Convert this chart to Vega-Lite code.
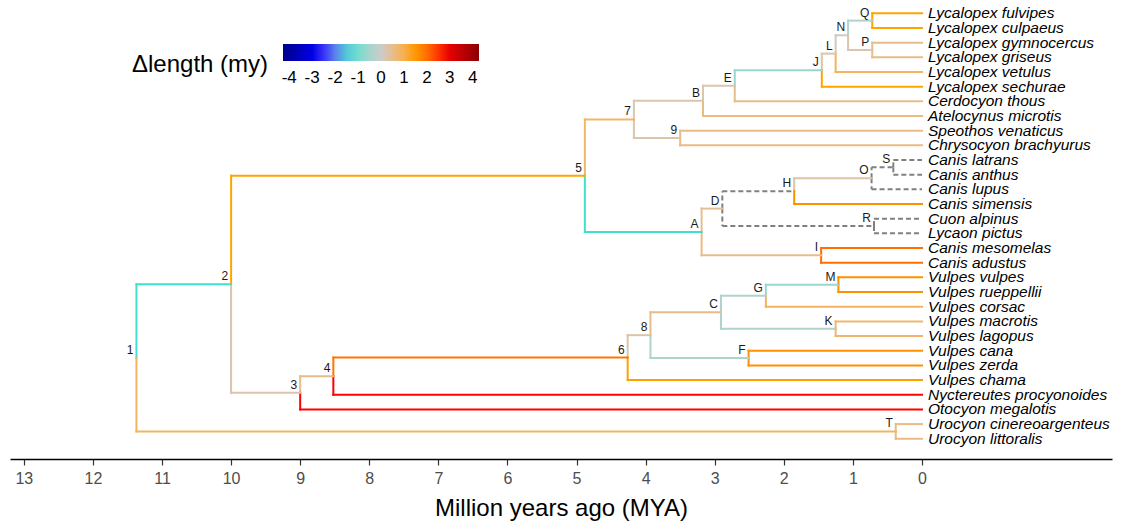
{
  "$schema": "https://vega.github.io/schema/vega-lite/v6.json",
  "width": 1102,
  "height": 459,
  "autosize": {"type": "none"},
  "padding": {"left": 10, "top": 0, "right": 16, "bottom": 68},
  "config": {
    "font": "Liberation Sans",
    "view": {"stroke": null},
    "axisX": {
      "grid": false,
      "domainColor": "black",
      "domainWidth": 1.5,
      "tickColor": "#333333",
      "tickWidth": 1.2,
      "tickSize": 6,
      "labelFontSize": 16,
      "labelColor": "#4D4D4D",
      "labelPadding": 5,
      "titleFontSize": 24,
      "titleFontWeight": "normal",
      "titleColor": "black",
      "titlePadding": 10
    }
  },
  "datasets": {
    "edges": [
      {"p": 11.37, "py": 24.484, "c": 10.0, "cy": 19.469, "d": -1.33},
      {"p": 11.37, "py": 24.484, "c": 0.38, "cy": 29.5, "d": 0.85},
      {"p": 10.0, "py": 19.469, "c": 4.88, "cy": 12.070, "d": 1.33},
      {"p": 10.0, "py": 19.469, "c": 9.0, "cy": 26.867, "d": 0.25},
      {"p": 9.0, "py": 26.867, "c": 8.52, "cy": 25.734, "d": 0.55},
      {"p": 9.0, "py": 26.867, "c": 0, "cy": 28, "d": 2.67},
      {"p": 8.52, "py": 25.734, "c": 4.26, "cy": 24.469, "d": 1.9},
      {"p": 8.52, "py": 25.734, "c": 0, "cy": 27, "d": 2.67},
      {"p": 4.26, "py": 24.469, "c": 3.93, "cy": 22.938, "d": 0.3},
      {"p": 4.26, "py": 24.469, "c": 0, "cy": 26, "d": 1.4},
      {"p": 3.93, "py": 22.938, "c": 2.91, "cy": 21.375, "d": 0.55},
      {"p": 3.93, "py": 22.938, "c": 2.51, "cy": 24.5, "d": -0.4},
      {"p": 2.91, "py": 21.375, "c": 2.26, "cy": 20.25, "d": -0.4},
      {"p": 2.91, "py": 21.375, "c": 1.25, "cy": 22.5, "d": -0.4},
      {"p": 2.26, "py": 20.25, "c": 1.21, "cy": 19.5, "d": -0.65},
      {"p": 2.26, "py": 20.25, "c": 0, "cy": 21, "d": 0.85},
      {"p": 1.21, "py": 19.5, "c": 0, "cy": 19, "d": 1.6},
      {"p": 1.21, "py": 19.5, "c": 0, "cy": 20, "d": 1.6},
      {"p": 1.25, "py": 22.5, "c": 0, "cy": 22, "d": 0.75},
      {"p": 1.25, "py": 22.5, "c": 0, "cy": 23, "d": 0.75},
      {"p": 2.51, "py": 24.5, "c": 0, "cy": 24, "d": 1.6},
      {"p": 2.51, "py": 24.5, "c": 0, "cy": 25, "d": 1.6},
      {"p": 4.88, "py": 12.070, "c": 4.17, "cy": 8.234, "d": 0.8},
      {"p": 4.88, "py": 12.070, "c": 3.19, "cy": 15.906, "d": -1.33},
      {"p": 4.17, "py": 8.234, "c": 3.17, "cy": 6.969, "d": 0.25},
      {"p": 4.17, "py": 8.234, "c": 3.50, "cy": 9.5, "d": 0.25},
      {"p": 3.50, "py": 9.5, "c": 0, "cy": 9, "d": 0.6},
      {"p": 3.50, "py": 9.5, "c": 0, "cy": 10, "d": 0.6},
      {"p": 3.17, "py": 6.969, "c": 2.71, "cy": 5.938, "d": 0.25},
      {"p": 3.17, "py": 6.969, "c": 0, "cy": 8, "d": 0.6},
      {"p": 2.71, "py": 5.938, "c": 1.45, "cy": 4.875, "d": -0.65},
      {"p": 2.71, "py": 5.938, "c": 0, "cy": 7, "d": 0.5},
      {"p": 1.45, "py": 4.875, "c": 1.25, "cy": 3.75, "d": 0.25},
      {"p": 1.45, "py": 4.875, "c": 0, "cy": 6, "d": 1.33},
      {"p": 1.25, "py": 3.75, "c": 1.07, "cy": 2.5, "d": 0.1},
      {"p": 1.25, "py": 3.75, "c": 0, "cy": 5, "d": 0.85},
      {"p": 1.07, "py": 2.5, "c": 0.72, "cy": 1.5, "d": -0.35},
      {"p": 1.07, "py": 2.5, "c": 0.72, "cy": 3.5, "d": 0.25},
      {"p": 0.72, "py": 1.5, "c": 0, "cy": 1, "d": 1.33},
      {"p": 0.72, "py": 1.5, "c": 0, "cy": 2, "d": 1.33},
      {"p": 0.72, "py": 3.5, "c": 0, "cy": 3, "d": 0.55},
      {"p": 0.72, "py": 3.5, "c": 0, "cy": 4, "d": 0.55},
      {"p": 3.19, "py": 15.906, "c": 2.89, "cy": 14.313, "d": 0.45},
      {"p": 3.19, "py": 15.906, "c": 1.46, "cy": 17.5, "d": 0.55},
      {"p": 2.89, "py": 14.313, "c": 1.85, "cy": 13.125, "d": null},
      {"p": 2.89, "py": 14.313, "c": 0.695, "cy": 15.5, "d": null},
      {"p": 1.85, "py": 13.125, "c": 0.73, "cy": 12.25, "d": 0.3},
      {"p": 1.85, "py": 13.125, "c": 0, "cy": 14, "d": 1.6},
      {"p": 0.73, "py": 12.25, "c": 0.415, "cy": 11.5, "d": null},
      {"p": 0.73, "py": 12.25, "c": 0, "cy": 13, "d": null},
      {"p": 0.415, "py": 11.5, "c": 0, "cy": 11, "d": null},
      {"p": 0.415, "py": 11.5, "c": 0, "cy": 12, "d": null},
      {"p": 0.695, "py": 15.5, "c": 0, "cy": 15, "d": null},
      {"p": 0.695, "py": 15.5, "c": 0, "cy": 16, "d": null},
      {"p": 1.46, "py": 17.5, "c": 0, "cy": 17, "d": 2.0},
      {"p": 1.46, "py": 17.5, "c": 0, "cy": 18, "d": 2.0},
      {"p": 0.38, "py": 29.5, "c": 0, "cy": 29, "d": 0.6},
      {"p": 0.38, "py": 29.5, "c": 0, "cy": 30, "d": 0.6}
    ],
    "tips": [
      {"name": "Lycalopex fulvipes", "t": 0, "y": 1},
      {"name": "Lycalopex culpaeus", "t": 0, "y": 2},
      {"name": "Lycalopex gymnocercus", "t": 0, "y": 3},
      {"name": "Lycalopex griseus", "t": 0, "y": 4},
      {"name": "Lycalopex vetulus", "t": 0, "y": 5},
      {"name": "Lycalopex sechurae", "t": 0, "y": 6},
      {"name": "Cerdocyon thous", "t": 0, "y": 7},
      {"name": "Atelocynus microtis", "t": 0, "y": 8},
      {"name": "Speothos venaticus", "t": 0, "y": 9},
      {"name": "Chrysocyon brachyurus", "t": 0, "y": 10},
      {"name": "Canis latrans", "t": 0, "y": 11},
      {"name": "Canis anthus", "t": 0, "y": 12},
      {"name": "Canis lupus", "t": 0, "y": 13},
      {"name": "Canis simensis", "t": 0, "y": 14},
      {"name": "Cuon alpinus", "t": 0, "y": 15},
      {"name": "Lycaon pictus", "t": 0, "y": 16},
      {"name": "Canis mesomelas", "t": 0, "y": 17},
      {"name": "Canis adustus", "t": 0, "y": 18},
      {"name": "Vulpes vulpes", "t": 0, "y": 19},
      {"name": "Vulpes rueppellii", "t": 0, "y": 20},
      {"name": "Vulpes corsac", "t": 0, "y": 21},
      {"name": "Vulpes macrotis", "t": 0, "y": 22},
      {"name": "Vulpes lagopus", "t": 0, "y": 23},
      {"name": "Vulpes cana", "t": 0, "y": 24},
      {"name": "Vulpes zerda", "t": 0, "y": 25},
      {"name": "Vulpes chama", "t": 0, "y": 26},
      {"name": "Nyctereutes procyonoides", "t": 0, "y": 27},
      {"name": "Otocyon megalotis", "t": 0, "y": 28},
      {"name": "Urocyon cinereoargenteus", "t": 0, "y": 29},
      {"name": "Urocyon littoralis", "t": 0, "y": 30}
    ],
    "nodes": [
      {"label": "1", "t": 11.37, "y": 24.484},
      {"label": "2", "t": 10.0, "y": 19.469},
      {"label": "3", "t": 9.0, "y": 26.867},
      {"label": "4", "t": 8.52, "y": 25.734},
      {"label": "5", "t": 4.88, "y": 12.070},
      {"label": "6", "t": 4.26, "y": 24.469},
      {"label": "7", "t": 4.17, "y": 8.234},
      {"label": "8", "t": 3.93, "y": 22.938},
      {"label": "9", "t": 3.50, "y": 9.5},
      {"label": "A", "t": 3.19, "y": 15.906},
      {"label": "B", "t": 3.17, "y": 6.969},
      {"label": "C", "t": 2.91, "y": 21.375},
      {"label": "D", "t": 2.89, "y": 14.313},
      {"label": "E", "t": 2.71, "y": 5.938},
      {"label": "F", "t": 2.51, "y": 24.5},
      {"label": "G", "t": 2.26, "y": 20.25},
      {"label": "H", "t": 1.85, "y": 13.125},
      {"label": "I", "t": 1.46, "y": 17.5},
      {"label": "J", "t": 1.45, "y": 4.875},
      {"label": "K", "t": 1.25, "y": 22.5},
      {"label": "L", "t": 1.25, "y": 3.75},
      {"label": "M", "t": 1.21, "y": 19.5},
      {"label": "N", "t": 1.07, "y": 2.5},
      {"label": "O", "t": 0.73, "y": 12.25},
      {"label": "P", "t": 0.72, "y": 3.5},
      {"label": "Q", "t": 0.72, "y": 1.5},
      {"label": "R", "t": 0.695, "y": 15.5},
      {"label": "S", "t": 0.415, "y": 11.5},
      {"label": "T", "t": 0.38, "y": 29.5}
    ]
  },
  "layer": [
    {
      "data": {"name": "edges"},
      "transform": [{"filter": "datum.d === null"}],
      "mark": {"type": "rule", "strokeWidth": 2, "color": "#808080", "strokeDash": [5, 3]},
      "encoding": {
        "x": {"field": "p", "type": "quantitative", "scale": {"domain": [-2.75, 13.2], "reverse": true, "nice": false, "zero": false}, "axis": {"values": [0,1,2,3,4,5,6,7,8,9,10,11,12,13], "format": "d", "title": "Million years ago (MYA)"}},
        "y": {"field": "py", "type": "quantitative", "scale": {"domain": [0.094, 31.38], "reverse": true, "nice": false, "zero": false}, "axis": null},
        "y2": {"field": "cy"}
      }
    },
    {
      "data": {"name": "edges"},
      "transform": [{"filter": "datum.d === null"}],
      "mark": {"type": "rule", "strokeWidth": 2, "color": "#808080", "strokeDash": [5, 3]},
      "encoding": {
        "x": {"field": "p", "type": "quantitative", "title": "Million years ago (MYA)"},
        "x2": {"field": "c"},
        "y": {"field": "cy", "type": "quantitative", "axis": null}
      }
    },
    {
      "data": {"name": "edges"},
      "transform": [{"filter": "datum.d !== null"}],
      "mark": {"type": "rule", "strokeWidth": 2, "strokeCap": "square"},
      "encoding": {
        "x": {"field": "p", "type": "quantitative", "title": "Million years ago (MYA)"},
        "y": {"field": "py", "type": "quantitative", "axis": null},
        "y2": {"field": "cy"},
        "color": {
          "field": "d", "type": "quantitative",
          "scale": {"domain": [-4.27, -2.67, -1.33, 0, 1.33, 2.67, 4.27], "range": ["#00008B", "#0000FF", "#40E0D0", "#CCCCCC", "#FFA500", "#FF0000", "#8B0000"], "interpolate": "lab"},
          "legend": {
            "title": "Δlength (my)",
            "orient": "none",
            "legendX": 122,
            "legendY": 44,
            "direction": "horizontal",
            "titleOrient": "left",
            "titleAngle": 0,
            "titleAnchor": "middle",
            "titleBaseline": "top",
            "titleFontSize": 24,
            "titleFontWeight": "normal",
            "titleColor": "black",
            "titlePadding": 14,
            "gradientLength": 196,
            "gradientThickness": 17,
            "gradientStrokeWidth": 0,
            "values": [-4, -3, -2, -1, 0, 1, 2, 3, 4],
            "labelExpr": "'' + datum.value",
            "labelFontSize": 17,
            "labelColor": "black",
            "labelOffset": 9,
            "padding": 0
          }
        }
      }
    },
    {
      "data": {"name": "edges"},
      "transform": [{"filter": "datum.d !== null"}],
      "mark": {"type": "rule", "strokeWidth": 2, "strokeCap": "square"},
      "encoding": {
        "x": {"field": "p", "type": "quantitative", "title": "Million years ago (MYA)"},
        "x2": {"field": "c"},
        "y": {"field": "cy", "type": "quantitative", "axis": null},
        "color": {"field": "d", "type": "quantitative"}
      }
    },
    {
      "data": {"name": "tips"},
      "mark": {"type": "text", "align": "left", "baseline": "middle", "dx": 6, "fontSize": 15.5, "fontStyle": "italic", "color": "black"},
      "encoding": {
        "x": {"field": "t", "type": "quantitative", "title": "Million years ago (MYA)"},
        "y": {"field": "y", "type": "quantitative", "axis": null},
        "text": {"field": "name"}
      }
    },
    {
      "data": {"name": "nodes"},
      "mark": {"type": "text", "align": "right", "baseline": "alphabetic", "dx": -3, "dy": -4, "fontSize": 12, "color": "#1A1A1A"},
      "encoding": {
        "x": {"field": "t", "type": "quantitative", "title": "Million years ago (MYA)"},
        "y": {"field": "y", "type": "quantitative", "axis": null},
        "text": {"field": "label"}
      }
    }
  ]
}
